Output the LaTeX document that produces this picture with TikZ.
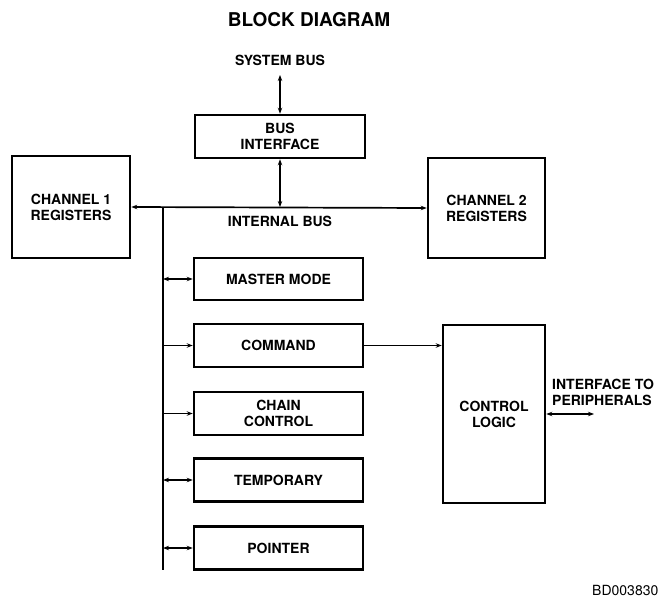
\documentclass[tikz,border=0pt]{standalone}
\usepackage{fontspec}
\setmainfont{TeX Gyre Heros}
\usetikzlibrary{arrows.meta}
\begin{document}
\begin{tikzpicture}[x=1pt,y=-1pt,
  >={Stealth[length=6pt,width=4.5pt]},
  txt/.style={font=\bfseries\fontsize{14}{16}\selectfont,align=center},
  blk/.style={txt,draw,line width=2.6pt,inner sep=0pt},
  conn/.style={line width=1.7pt}]
\useasboundingbox (0,0) rectangle (659,602);
% title
\node[font=\bfseries\fontsize{19}{22}\selectfont] (title) at (309,20) {BLOCK DIAGRAM};
% boxes
\node[blk,minimum width=170pt,minimum height=43pt] (bi) at (280,136.5) {BUS\\INTERFACE};
\node[blk,minimum width=118pt,minimum height=102pt] (ch1) at (71,207) {CHANNEL 1\\REGISTERS};
\node[blk,minimum width=117pt,minimum height=100pt] (ch2) at (486.5,208) {CHANNEL 2\\REGISTERS};
\node[blk,minimum width=169pt,minimum height=42pt] (mm) at (278.5,279) {MASTER MODE};
\node[blk,minimum width=169pt,minimum height=43pt] (cmd) at (278.5,345.5) {COMMAND};
\node[blk,minimum width=169pt,minimum height=43pt] (cc) at (278.5,413.5) {CHAIN\\CONTROL};
\node[blk,minimum width=169pt,minimum height=43pt] (tmp) at (278.5,480) {TEMPORARY};
\node[blk,minimum width=169pt,minimum height=43pt] (ptr) at (278.5,548) {POINTER};
\node[blk,minimum width=102pt,minimum height=178pt] (cl) at (494,414) {CONTROL\\LOGIC};
% labels
\node[txt,inner sep=0pt] (sb) at (280,60) {SYSTEM BUS};
\node[txt] (ib) at (280,221) {INTERNAL BUS};
\node[txt,align=left,anchor=west,inner sep=0pt] (ip) at (552,392) {INTERFACE TO\\PERIPHERALS};
\node[font=\fontsize{14}{16}\selectfont,anchor=west,inner sep=0pt] (bd) at (592,590) {BD003830};
% coordinates
\coordinate (sbend) at (280,75);
\coordinate (bustop) at (163,207);
\coordinate (busbot) at (163,570);
\coordinate (perend) at (594,414);
% connectors
\draw[conn,<->] (sbend) -- (bi.north);
\draw[conn,<->] (bi.south) -- (bi.south |- ch1.east);
\draw[conn,<->] (ch1.east) -- (ch2.west);
\draw[conn] (bustop) -- (busbot);
\draw[conn,<->] (bustop |- mm.west) -- (mm.west);
\draw[conn,->] (bustop |- cmd.west) -- (cmd.west);
\draw[conn,->] (bustop |- cc.west) -- (cc.west);
\draw[conn,<->] (bustop |- tmp.west) -- (tmp.west);
\draw[conn,<->] (bustop |- ptr.west) -- (ptr.west);
\draw[conn,->] (cmd.east) -- (cmd.east -| cl.west);
\draw[conn,<->] (cl.east |- perend) -- (perend);
\end{tikzpicture}
\end{document}
